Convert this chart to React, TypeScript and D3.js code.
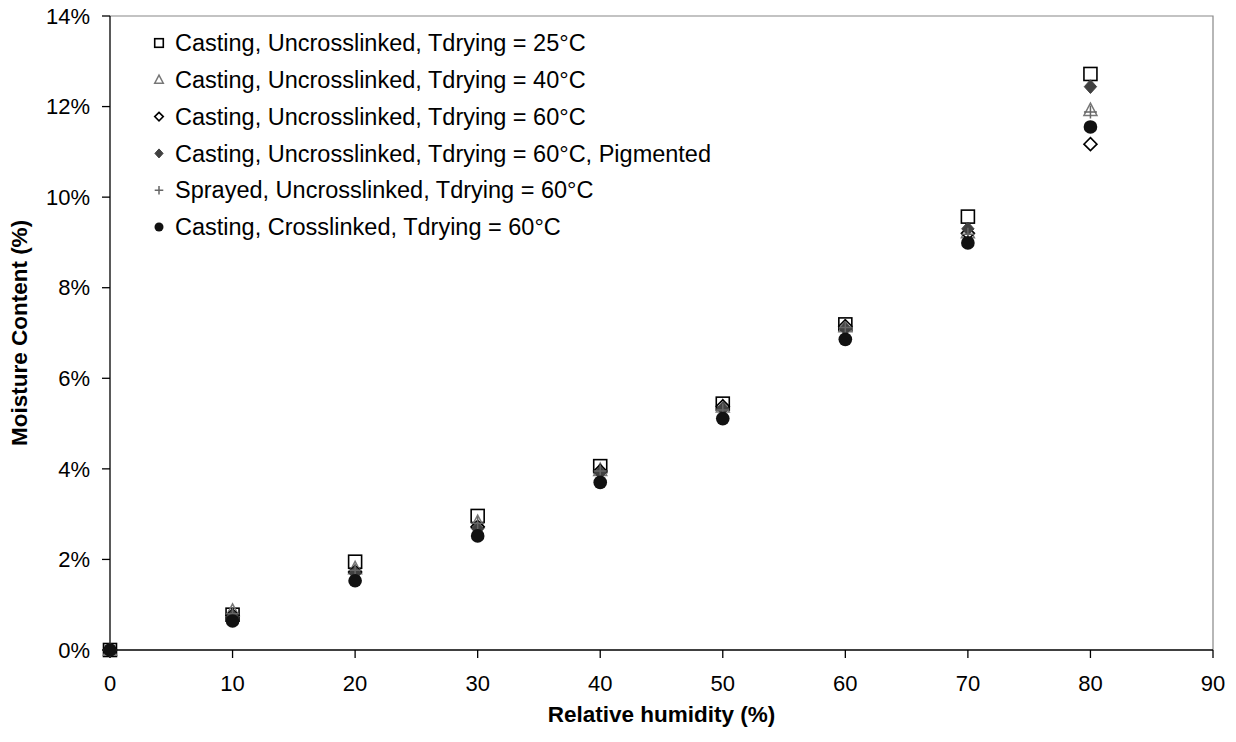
import React from "react";
import * as d3 from "d3";

const humidity = [0, 10, 20, 30, 40, 50, 60, 70, 80];
const seriesNames = [
  "Casting, Uncrosslinked, Tdrying = 25°C",
  "Casting, Uncrosslinked, Tdrying = 40°C",
  "Casting, Uncrosslinked, Tdrying = 60°C",
  "Casting, Uncrosslinked, Tdrying = 60°C, Pigmented",
  "Sprayed, Uncrosslinked, Tdrying = 60°C",
  "Casting, Crosslinked, Tdrying = 60°C",
];
const cast25 = [0, 0.78, 1.95, 2.96, 4.06, 5.44, 7.19, 9.57, 12.72];
const cast40 = [0, 0.86, 1.8, 2.82, 3.97, 5.37, 7.14, 9.22, 11.92];
const cast60 = [0, 0.76, 1.72, 2.72, 3.95, 5.38, 7.15, 9.2, 11.17];
const cast60Pig = [0, 0.74, 1.7, 2.68, 3.92, 5.33, 7.1, 9.3, 12.44];
const sprayed60 = [0, 0.8, 1.76, 2.8, 3.95, 5.3, 7.12, 9.18, 11.88];
const crosslinked60 = [0, 0.64, 1.53, 2.52, 3.7, 5.11, 6.86, 8.99, 11.55];
const xTicks = [0, 10, 20, 30, 40, 50, 60, 70, 80, 90];
const yTicks = [0, 2, 4, 6, 8, 10, 12, 14];

const allSeries = [cast25, cast40, cast60, cast60Pig, sprayed60, crosslinked60];
const markerTypes = ["square", "triangle", "diamondOpen", "diamondFilled", "plus", "circle"];

const W = 1236, H = 742;
const left = 110, right = 1213, top = 16, bottom = 650;
const font = "Arial, 'Liberation Sans', sans-serif";

function Marker({ type, x, y, s = 1 }: { type: string; x: number; y: number; s?: number }) {
  const r = 6.5 * s;
  switch (type) {
    case "square":
      return <rect x={x - r} y={y - r} width={2 * r} height={2 * r} fill="white" stroke="#000" strokeWidth={1.6} />;
    case "triangle":
      return (
        <path d={`M${x},${y - r * 1.1}L${x + r},${y + r * 0.8}L${x - r},${y + r * 0.8}Z`} fill="none" stroke="#777" strokeWidth={1.5} />
      );
    case "diamondOpen":
      return (
        <path d={`M${x},${y - r}L${x + r},${y}L${x},${y + r}L${x - r},${y}Z`} fill="white" stroke="#000" strokeWidth={1.6} />
      );
    case "diamondFilled":
      return (
        <path d={`M${x},${y - r * 1.05}L${x + r * 0.95},${y}L${x},${y + r * 1.05}L${x - r * 0.95},${y}Z`} fill="#404040" stroke="#404040" strokeWidth={1} />
      );
    case "plus":
      return (
        <path d={`M${x - r},${y}H${x + r}M${x},${y - r}V${y + r}`} fill="none" stroke="#666" strokeWidth={1.5} />
      );
    default:
      return <circle cx={x} cy={y} r={r * 1.05} fill="#111" />;
  }
}

export default function App() {
  const xs = d3.scaleLinear().domain([0, 90]).range([left, right]);
  const ys = d3.scaleLinear().domain([0, 14]).range([bottom, top]);
  return (
    <svg width={W} height={H} style={{ display: "block", position: "absolute", left: 0, top: 0 }} fontFamily={font}>
      <rect width={W} height={H} fill="white" />
      <path d={`M${left},${top}H${right}V${bottom}`} fill="none" stroke="#888" strokeWidth={1.2} />
      <line x1={left} x2={left} y1={top} y2={bottom} stroke="#000" strokeWidth={1.3} />
      <line x1={left} x2={right} y1={bottom} y2={bottom} stroke="#000" strokeWidth={1.3} />
      {yTicks.map((t) => (
        <g key={"y" + t}>
          <line x1={left - 8} x2={left} y1={ys(t)} y2={ys(t)} stroke="#000" strokeWidth={1.3} />
          <text x={left - 20} y={ys(t)} dy="0.35em" textAnchor="end" fontSize={22} fill="#000">
            {t}%
          </text>
        </g>
      ))}
      {xTicks.map((t) => (
        <g key={"x" + t}>
          <line x1={xs(t)} x2={xs(t)} y1={bottom} y2={bottom + 8} stroke="#000" strokeWidth={1.3} />
          <text x={xs(t)} y={bottom + 41} textAnchor="middle" fontSize={22} fill="#000">
            {t}
          </text>
        </g>
      ))}
      <text x={(left + right) / 2} y={722} textAnchor="middle" fontSize={22.5} fontWeight="bold">
        Relative humidity (%)
      </text>
      <text transform={`translate(27,${(top + bottom) / 2}) rotate(-90)`} textAnchor="middle" fontSize={22.5} fontWeight="bold">
        Moisture Content (%)
      </text>
      {allSeries.map((vals, si) => (
        <g key={"s" + si}>
          {vals.map((v, i) => (
            <Marker key={i} type={markerTypes[si]} x={xs(humidity[i])} y={ys(v)} />
          ))}
        </g>
      ))}
      {seriesNames.map((n, i) => {
        const yy = 43 + i * 36.8;
        return (
          <g key={"l" + i}>
            <Marker type={markerTypes[i]} x={159} y={yy} s={0.66} />
            <text x={175} y={yy} dy="0.35em" fontSize={23.5} fill="#000">
              {n}
            </text>
          </g>
        );
      })}
    </svg>
  );
}
